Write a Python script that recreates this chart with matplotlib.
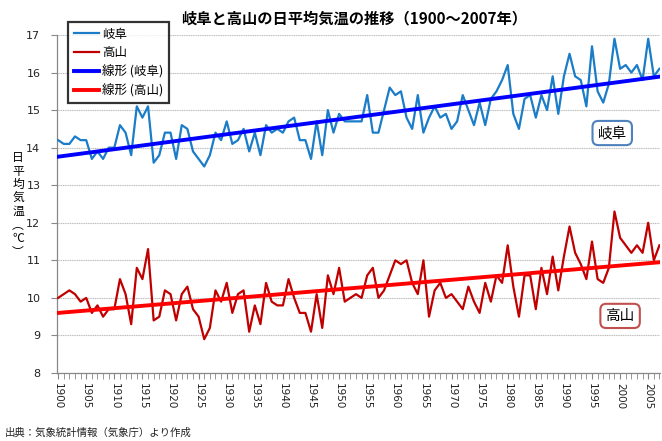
import matplotlib
matplotlib.use("Agg")
import matplotlib.pyplot as plt
import numpy as np
from matplotlib.lines import Line2D
from matplotlib.ticker import MultipleLocator

plt.rcParams['font.family'] = ['Noto Sans CJK JP', 'DejaVu Sans']

years = list(range(1900, 2008))

gifu = [14.2, 14.1, 14.1, 14.3, 14.2, 14.2, 13.7, 13.9, 13.7, 14.0,
        14.0, 14.6, 14.4, 13.8, 15.1, 14.8, 15.1, 13.6, 13.8, 14.4,
        14.4, 13.7, 14.6, 14.5, 13.9, 13.7, 13.5, 13.8, 14.4, 14.2,
        14.7, 14.1, 14.2, 14.5, 13.9, 14.4, 13.8, 14.6, 14.4, 14.5,
        14.4, 14.7, 14.8, 14.2, 14.2, 13.7, 14.7, 13.8, 15.0, 14.4,
        14.9, 14.7, 14.7, 14.7, 14.7, 15.4, 14.4, 14.4, 15.0, 15.6,
        15.4, 15.5, 14.8, 14.5, 15.4, 14.4, 14.8, 15.1, 14.8, 14.9,
        14.5, 14.7, 15.4, 15.0, 14.6, 15.2, 14.6, 15.3, 15.5, 15.8,
        16.2, 14.9, 14.5, 15.3, 15.4, 14.8, 15.4, 15.0, 15.9, 14.9,
        15.9, 16.5, 15.9, 15.8, 15.1, 16.7, 15.5, 15.2, 15.7, 16.9,
        16.1, 16.2, 16.0, 16.2, 15.8, 16.9, 15.9, 16.1]

takayama = [10.0, 10.1, 10.2, 10.1, 9.9, 10.0, 9.6, 9.8, 9.5, 9.7,
            9.7, 10.5, 10.1, 9.3, 10.8, 10.5, 11.3, 9.4, 9.5, 10.2,
            10.1, 9.4, 10.1, 10.3, 9.7, 9.5, 8.9, 9.2, 10.2, 9.9,
            10.4, 9.6, 10.1, 10.2, 9.1, 9.8, 9.3, 10.4, 9.9, 9.8,
            9.8, 10.5, 10.0, 9.6, 9.6, 9.1, 10.1, 9.2, 10.6, 10.1,
            10.8, 9.9, 10.0, 10.1, 10.0, 10.6, 10.8, 10.0, 10.2, 10.6,
            11.0, 10.9, 11.0, 10.4, 10.1, 11.0, 9.5, 10.2, 10.4, 10.0,
            10.1, 9.9, 9.7, 10.3, 9.9, 9.6, 10.4, 9.9, 10.6, 10.4,
            11.4, 10.3, 9.5, 10.6, 10.6, 9.7, 10.8, 10.1, 11.1, 10.2,
            11.1, 11.9, 11.2, 10.9, 10.5, 11.5, 10.5, 10.4, 10.8, 12.3,
            11.6, 11.4, 11.2, 11.4, 11.2, 12.0, 11.0, 11.4]

series_names = ['岐阜', '高山', '線形 (岐阜)', '線形 (高山)']
xtick_years = list(range(1900, 2006, 5))
yticks = list(range(8, 18))

title = '岐阜と高山の日平均気温の推移（1900～2007年）'
ylabel_chars = ['日', '平', '均', '気', '温', '︵', '℃', '︶']
source = '出典：気象統計情報（気象庁）より作成'

col_gifu = '#1B7CC8'
col_taka = '#C00000'
col_tr_g = '#0000FF'
col_tr_t = '#FF0000'

W, H = 662, 441
fig = plt.figure(figsize=(W / 100, H / 100), dpi=100)
ax = fig.add_axes([57 / W, 1 - 373 / H, (660 - 57) / W, (373 - 35) / H])

x = np.array(years, dtype=float)
yg = np.array(gifu)
yt = np.array(takayama)
pg = np.polyfit(x, yg, 1)
pt = np.polyfit(x, yt, 1)

ax.plot(x, yg, color=col_gifu, lw=1.6, zorder=3)
ax.plot(x, yt, color=col_taka, lw=1.6, zorder=3)
ax.plot(x, np.polyval(pg, x), color=col_tr_g, lw=2.8, zorder=4)
ax.plot(x, np.polyval(pt, x), color=col_tr_t, lw=2.8, zorder=4)

ax.set_xlim(1899.8, 2007.1)
ax.set_ylim(8, 17)
ax.set_yticks(yticks)
ax.set_yticklabels([str(v) for v in yticks], fontsize=8, family='DejaVu Sans', color='#222222')
ax.set_xticks(xtick_years)
ax.set_xticklabels([str(v) for v in xtick_years], rotation=270, fontsize=7.5,
                   family='DejaVu Sans', color='#222222')
ax.xaxis.set_minor_locator(MultipleLocator(1))
ax.tick_params(axis='x', which='both', direction='out', length=4, color='#888888', pad=3)
ax.tick_params(axis='y', direction='out', length=4, color='#888888', pad=8)

ax.grid(axis='y', color='#BBBBBB', lw=0.8, ls=(0, (1, 0.6)))
ax.set_axisbelow(True)
for s in ['top', 'right']:
    ax.spines[s].set_visible(False)
for s in ['left', 'bottom']:
    ax.spines[s].set_color('#888888')
    ax.spines[s].set_linewidth(0.9)

# annotation boxes
ax.text(1998.6, 14.39, '岐阜', fontsize=10.5, ha='center', va='center', zorder=5,
        bbox=dict(boxstyle='round,pad=0.35,rounding_size=0.4', fc='white', ec='#4F81BD', lw=1.5))
ax.text(2000.0, 9.52, '高山', fontsize=10.5, ha='center', va='center', zorder=5,
        bbox=dict(boxstyle='round,pad=0.35,rounding_size=0.4', fc='white', ec='#C0504D', lw=1.5))

# legend
handles = [Line2D([], [], color=col_gifu, lw=1.6),
           Line2D([], [], color=col_taka, lw=1.6),
           Line2D([], [], color=col_tr_g, lw=2.8),
           Line2D([], [], color=col_tr_t, lw=2.8)]
leg = fig.legend(handles, series_names, loc='upper left',
                 bbox_to_anchor=(68 / W, 1 - 22 / H), fontsize=9,
                 frameon=True, fancybox=False, handlelength=2.0, handletextpad=0.3,
                 borderpad=0.45, labelspacing=0.45, borderaxespad=0)
leg.get_frame().set_edgecolor('black')
leg.get_frame().set_linewidth(1.6)
leg.set_zorder(10)

fig.text(354 / W, 1 - 18 / H, title, fontsize=11, fontweight='bold', ha='center', va='center')
fig.text(18 / W, 1 - 205 / H, '\n'.join(ylabel_chars), fontsize=8.5, ha='center', va='center',
         linespacing=1.05)
fig.text(5 / W, 1 - 433 / H, source, fontsize=7.5, ha='left', va='center', color='#222222')

fig.savefig('out.png', dpi=100)
